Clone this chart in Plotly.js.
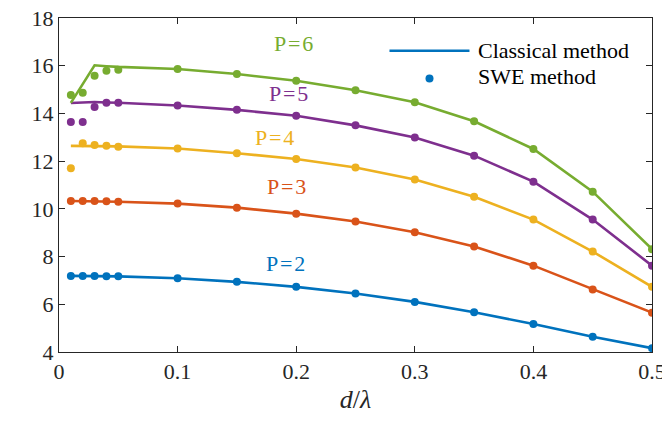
<!DOCTYPE html>
<html>
<head>
<meta charset="utf-8">
<script src="https://cdn.plot.ly/plotly-3.0.1.min.js"></script>
<style>html,body{margin:0;padding:0;background:#fff;}#chart{width:662px;height:421px;}</style>
</head>
<body>
<div id="chart"></div>
<script>
// d/lambda sample positions
const dLambda = [0.01, 0.02, 0.03, 0.04, 0.05, 0.1, 0.15, 0.2, 0.25, 0.3, 0.35, 0.4, 0.45, 0.5];

// Classical method (lines)
const classicalP2 = [7.19, 7.19, 7.19, 7.18, 7.17, 7.09, 6.94, 6.73, 6.45, 6.10, 5.67, 5.17, 4.64, 4.16];
const classicalP3 = [10.33, 10.33, 10.33, 10.32, 10.30, 10.22, 10.05, 9.80, 9.47, 9.02, 8.42, 7.62, 6.62, 5.65];
const classicalP4 = [12.64, 12.64, 12.64, 12.63, 12.62, 12.53, 12.33, 12.09, 11.73, 11.23, 10.51, 9.55, 8.21, 6.73];
const classicalP5 = [14.44, 14.46, 14.48, 14.46, 14.45, 14.33, 14.15, 13.90, 13.50, 12.99, 12.23, 11.14, 9.55, 7.62];
const classicalP6 = [14.44, 15.23, 16.02, 15.98, 15.95, 15.86, 15.65, 15.37, 14.97, 14.47, 13.67, 12.51, 10.72, 8.31];

// SWE method (dots)
const sweP2 = [7.19, 7.19, 7.19, 7.18, 7.17, 7.09, 6.94, 6.73, 6.45, 6.10, 5.67, 5.17, 4.64, 4.16];
const sweP3 = [10.33, 10.33, 10.33, 10.32, 10.30, 10.22, 10.05, 9.80, 9.47, 9.02, 8.42, 7.62, 6.62, 5.65];
const sweP4 = [11.70, 12.75, 12.68, 12.65, 12.60, 12.53, 12.33, 12.09, 11.73, 11.23, 10.51, 9.55, 8.21, 6.73];
const sweP5 = [13.64, 13.64, 14.27, 14.45, 14.45, 14.33, 14.15, 13.90, 13.50, 12.99, 12.23, 11.14, 9.55, 7.62];
const sweP6 = [14.77, 14.87, 15.58, 15.79, 15.83, 15.86, 15.65, 15.37, 14.97, 14.47, 13.67, 12.51, 10.72, 8.31];

const seriesLabels = ['P=2', 'P=3', 'P=4', 'P=5', 'P=6'];
const labelX = [0.1907, 0.1916, 0.1817, 0.1935, 0.198];
const labelY = [7.70, 10.95, 12.99, 14.83, 16.92];

const xTicks = [0, 0.1, 0.2, 0.3, 0.4, 0.5];
const yTicks = [4, 6, 8, 10, 12, 14, 16, 18];
const legendLabels = ['Classical method', 'SWE method'];

const colors = ['#0072BD', '#D95319', '#EDB120', '#7E2F8E', '#77AC30'];
const classical = [classicalP2, classicalP3, classicalP4, classicalP5, classicalP6];
const swe = [sweP2, sweP3, sweP4, sweP5, sweP6];

const FONT = "'Liberation Serif', 'Times New Roman', serif";
const AX = '#262626';

const traces = [];
classical.forEach((ys, i) => {
  traces.push({x: dLambda, y: ys, mode: 'lines', type: 'scatter',
    line: {color: colors[i], width: 2.6}, showlegend: false, hoverinfo: 'skip'});
});
swe.forEach((ys, i) => {
  traces.push({x: dLambda, y: ys, mode: 'markers', type: 'scatter',
    marker: {color: colors[i], size: 8}, showlegend: false, hoverinfo: 'skip'});
});

const annotations = seriesLabels.map((t, i) => ({
  x: labelX[i], y: labelY[i], xref: 'x', yref: 'y',
  text: t.replace('=', '\u200A=\u200A'), showarrow: false,
  font: {family: FONT, size: 22, color: colors[i]},
  xanchor: 'center', yanchor: 'middle'
}));
annotations.push({x: 0.7035, y: 0.902, xref: 'paper', yref: 'paper', text: legendLabels[0],
  showarrow: false, xanchor: 'left', yanchor: 'middle', font: {family: FONT, size: 22, color: '#000'}});
annotations.push({x: 0.7035, y: 0.825, xref: 'paper', yref: 'paper', text: legendLabels[1],
  showarrow: false, xanchor: 'left', yanchor: 'middle', font: {family: FONT, size: 22, color: '#000'}});

const shapes = [
  {type: 'line', xref: 'paper', yref: 'paper', x0: 0.5573, x1: 0.6922, y0: 0.902, y1: 0.902,
   line: {color: colors[0], width: 2.6}},
  {type: 'circle', xref: 'paper', yref: 'paper', xsizemode: 'pixel', ysizemode: 'pixel',
   xanchor: 0.6248, yanchor: 0.819, x0: -4, x1: 4, y0: -4, y1: 4,
   fillcolor: colors[0], line: {width: 0}}
];

const layout = {
  width: 662, height: 421,
  margin: {l: 59, r: 10, t: 18, b: 69, pad: 0},
  paper_bgcolor: '#fff', plot_bgcolor: '#fff',
  font: {family: FONT, color: AX},
  showlegend: false,
  xaxis: {
    range: [0, 0.5], tickvals: xTicks, ticktext: xTicks.map(String),
    ticks: 'inside', ticklen: 6, tickwidth: 1, tickcolor: AX,
    showline: true, linecolor: AX, linewidth: 1, mirror: 'ticks',
    showgrid: false, zeroline: false, ticklabeloverflow: 'allow',
    tickfont: {family: FONT, size: 22, color: AX},
    title: {text: '<i>d</i>/<i>λ</i>', font: {family: FONT, size: 26, color: AX}, standoff: 6}
  },
  yaxis: {
    range: [4, 18], tickvals: yTicks, ticktext: yTicks.map(String),
    ticks: 'inside', ticklen: 6, tickwidth: 1, tickcolor: AX,
    showline: true, linecolor: AX, linewidth: 1, mirror: 'ticks',
    showgrid: false, zeroline: false, ticklabeloverflow: 'allow',
    tickfont: {family: FONT, size: 22, color: AX}
  },
  annotations: annotations,
  shapes: shapes
};

Plotly.newPlot('chart', traces, layout, {staticPlot: true, displayModeBar: false});
</script>
</body>
</html>
